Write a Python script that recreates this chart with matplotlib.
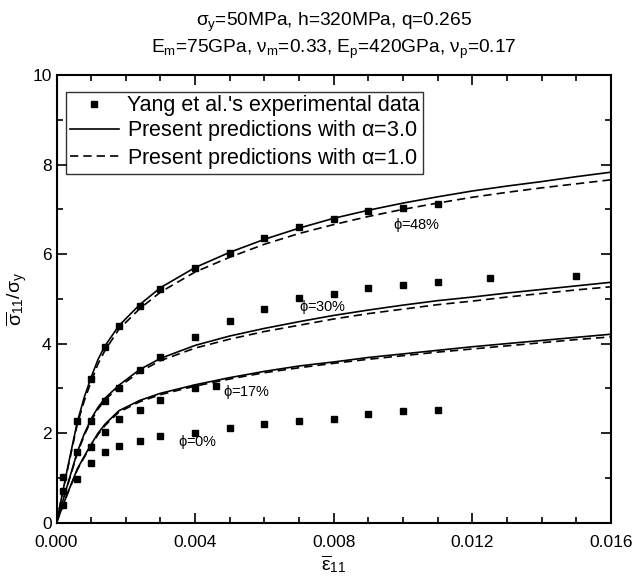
import matplotlib
matplotlib.use("Agg")
import matplotlib.pyplot as plt
import matplotlib.ticker as ticker

plt.rcParams['font.family'] = ['Liberation Sans', 'DejaVu Sans']
plt.rcParams['mathtext.fontset'] = 'custom'
plt.rcParams['mathtext.rm'] = 'Liberation Sans'
plt.rcParams['mathtext.it'] = 'Liberation Sans'
plt.rcParams['mathtext.bf'] = 'Liberation Sans:bold'

# Experimental data (Yang et al.)
exp_x_48 = [0.0002, 0.0006, 0.0010, 0.0014, 0.0018, 0.0024, 0.0030, 0.0040, 0.0050,
            0.0060, 0.0070, 0.0080, 0.0090, 0.0100, 0.0110]
exp_y_48 = [1.03, 2.27, 3.21, 3.93, 4.39, 4.84, 5.21, 5.68, 6.03,
            6.35, 6.61, 6.79, 6.96, 7.03, 7.11]
exp_x_30 = [0.0002, 0.0006, 0.0010, 0.0014, 0.0018, 0.0024, 0.0030, 0.0040, 0.0050,
            0.0060, 0.0070, 0.0080, 0.0090, 0.0100, 0.0110, 0.0125, 0.0150]
exp_y_30 = [0.71, 1.57, 2.27, 2.72, 3.00, 3.41, 3.71, 4.15, 4.50,
            4.77, 5.01, 5.10, 5.25, 5.31, 5.37, 5.47, 5.51]
exp_x_17 = [0.0002, 0.0006, 0.0010, 0.0014, 0.0018, 0.0024, 0.0030, 0.0040, 0.0046]
exp_y_17 = [0.40, 0.97, 1.70, 2.03, 2.31, 2.52, 2.74, 3.00, 3.06]
exp_x_0 = [0.0010, 0.0014, 0.0018, 0.0024, 0.0030, 0.0040, 0.0050, 0.0060, 0.0070,
           0.0080, 0.0090, 0.0100, 0.0110]
exp_y_0 = [1.33, 1.57, 1.71, 1.83, 1.93, 2.01, 2.12, 2.21, 2.27,
           2.31, 2.42, 2.49, 2.52]

# Predictions
pred_x = [0.0, 0.0003, 0.0006, 0.0008, 0.0010, 0.0012, 0.0014, 0.0018, 0.0024, 0.0030,
          0.0040, 0.0050, 0.0060, 0.0070, 0.0080, 0.0090, 0.0100, 0.0110, 0.0120,
          0.0130, 0.0140, 0.0150, 0.0160]
a3_48 = [0.0, 1.15, 2.25, 2.80, 3.25, 3.65, 3.95, 4.40, 4.87, 5.25,
         5.70, 6.04, 6.33, 6.58, 6.80, 6.98, 7.14, 7.28, 7.41, 7.52, 7.62, 7.73, 7.83]
a1_48 = [0.0, 1.12, 2.20, 2.72, 3.15, 3.55, 3.85, 4.32, 4.78, 5.15,
         5.60, 5.93, 6.22, 6.46, 6.66, 6.84, 7.00, 7.14, 7.27, 7.38, 7.48, 7.57, 7.66]
a3_30 = [0.0, 0.80, 1.58, 1.98, 2.32, 2.58, 2.78, 3.07, 3.42, 3.67,
         3.96, 4.17, 4.34, 4.49, 4.63, 4.75, 4.86, 4.96, 5.04, 5.13, 5.21, 5.29, 5.37]
a1_30 = [0.0, 0.78, 1.55, 1.95, 2.28, 2.54, 2.74, 3.03, 3.37, 3.62,
         3.90, 4.10, 4.27, 4.41, 4.55, 4.67, 4.77, 4.87, 4.95, 5.04, 5.12, 5.20, 5.27]
a3_17 = [0.0, 0.62, 1.20, 1.48, 1.75, 2.00, 2.20, 2.50, 2.73, 2.89,
         3.08, 3.24, 3.38, 3.50, 3.59, 3.69, 3.77, 3.85, 3.93, 4.00, 4.07, 4.14, 4.21]
a1_17 = [0.0, 0.61, 1.18, 1.46, 1.72, 1.97, 2.17, 2.47, 2.70, 2.86,
         3.05, 3.21, 3.35, 3.46, 3.56, 3.65, 3.73, 3.81, 3.88, 3.95, 4.02, 4.09, 4.15]

labels = ['$\\phi$=48%', '$\\phi$=30%', '$\\phi$=17%', '$\\phi$=0%']
label_x = [0.0097, 0.0070, 0.0048, 0.0035]
label_y = [6.66, 4.81, 2.92, 1.80]

fig = plt.figure(figsize=(6.35, 5.82), dpi=100)
ax = fig.add_axes([0.089, 0.102, 0.873, 0.769])

lw = 1.2
ax.plot(exp_x_48, exp_y_48, 's', color='black', ms=5, label="Yang et al.'s experimental data")
for xs, ys in [(exp_x_30, exp_y_30), (exp_x_17, exp_y_17), (exp_x_0, exp_y_0)]:
    ax.plot(xs, ys, 's', color='black', ms=5)

ax.plot(pred_x, a3_48, '-', color='black', lw=lw, label='Present predictions with $\\alpha$=3.0')
ax.plot(pred_x, a1_48, '--', color='black', lw=lw, dashes=(5, 3),
        label='Present predictions with $\\alpha$=1.0')
for ys in [a3_30, a3_17]:
    ax.plot(pred_x, ys, '-', color='black', lw=lw)
for ys in [a1_30, a1_17]:
    ax.plot(pred_x, ys, '--', color='black', lw=lw, dashes=(5, 3))

for t, x, y in zip(labels, label_x, label_y):
    ax.text(x, y, t, fontsize=10.5, va='center', ha='left')

ax.set_xlim(0, 0.016)
ax.set_ylim(0, 10)
ax.xaxis.set_major_locator(ticker.MultipleLocator(0.004))
ax.xaxis.set_minor_locator(ticker.MultipleLocator(0.001))
ax.xaxis.set_major_formatter(ticker.FormatStrFormatter('%.3f'))
ax.yaxis.set_major_locator(ticker.MultipleLocator(2))
ax.yaxis.set_minor_locator(ticker.MultipleLocator(1))
ax.tick_params(which='both', direction='in', top=True, right=True, labelsize=12.5, width=1.2)
ax.tick_params(which='major', length=7)
ax.tick_params(which='minor', length=4)
ax.tick_params(axis='x', which='major', pad=9)
for s in ax.spines.values():
    s.set_linewidth(1.5)

ax.set_xlabel('$\\overline{\\varepsilon}_{11}$', fontsize=14, labelpad=2)
ax.set_ylabel('$\\overline{\\sigma}_{11}/\\sigma_y$', fontsize=14, labelpad=2)
ax.set_title('$\\sigma_y$=50MPa, h=320MPa, q=0.265\n'
             '$E_m$=75GPa, $\\nu_m$=0.33, $E_p$=420GPa, $\\nu_p$=0.17',
             fontsize=13.8, pad=16, linespacing=1.25)

leg = ax.legend(loc='upper left', bbox_to_anchor=(0.018, 0.962), fontsize=15.5,
                frameon=True, fancybox=False, edgecolor='black', handlelength=2.3,
                handletextpad=0.35, borderpad=0.15, labelspacing=0.1, borderaxespad=0)
leg.get_frame().set_linewidth(1.0)

fig.savefig('out.png', dpi=100)
